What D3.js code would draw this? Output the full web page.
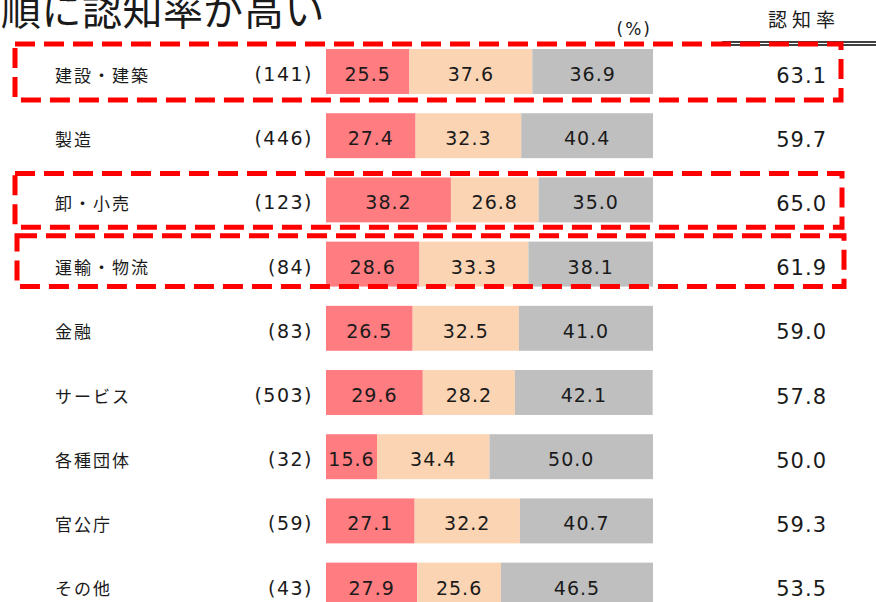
<!DOCTYPE html>
<html>
<head>
<meta charset="utf-8">
<script src="https://cdn.jsdelivr.net/npm/d3@7"></script>
<style>
  html, body { margin: 0; padding: 0; background: #fff; }
  svg { display: block; }
</style>
</head>
<body>
<svg id="chart" width="876" height="602"></svg>
<script>
// Industry categories, sample sizes and the three-way breakdown (%)
const categories = ["建設・建築", "製造", "卸・小売", "運輸・物流", "金融", "サービス", "各種団体", "官公庁", "その他"];
const counts = [141, 446, 123, 84, 83, 503, 32, 59, 43];
const seriesA = [25.5, 27.4, 38.2, 28.6, 26.5, 29.6, 15.6, 27.1, 27.9];
const seriesB = [37.6, 32.3, 26.8, 33.3, 32.5, 28.2, 34.4, 32.2, 25.6];
const seriesC = [36.9, 40.4, 35.0, 38.1, 41.0, 42.1, 50.0, 40.7, 46.5];
const awareness = [63.1, 59.7, 65.0, 61.9, 59.0, 57.8, 50.0, 59.3, 53.5];
const highlighted = ["建設・建築", "卸・小売", "運輸・物流"];
const seriesColors = ["#FF7C80", "#FBD4B4", "#BFBFBF"];

const JP = "'Noto Sans CJK JP', 'Noto Sans', sans-serif";
const NUM = "'DejaVu Sans', Verdana, sans-serif";
const INK = "#1a1a1a";

const svg = d3.select("#chart");

const x = d3.scaleLinear().domain([0, 100]).range([326, 653]);
const y = d3.scaleBand().domain(categories).range([39.4, 39.4 + 9 * 64.2])
  .paddingInner(0.3).paddingOuter(0.15);

const rows = categories.map((c, i) => ({
  cat: c, n: counts[i], total: awareness[i],
  parts: [seriesA[i], seriesB[i], seriesC[i]]
}));

// Heading fragment (runs off the top-left edge)
svg.append("text")
  .attr("x", 1).attr("y", 25)
  .attr("font-family", JP).attr("font-size", 40).attr("letter-spacing", 0.5)
  .attr("fill", INK).text("順に認知率が高い");

// Column headers
svg.append("text")
  .attr("x", 652).attr("y", 35).attr("text-anchor", "end")
  .attr("font-family", NUM).attr("font-size", 17).attr("letter-spacing", 2)
  .attr("fill", INK).text("(%)");

svg.append("text")
  .attr("x", 768).attr("y", 27)
  .attr("font-family", JP).attr("font-size", 19).attr("letter-spacing", 5)
  .attr("fill", INK).text("認知率");

// Double rule under the header
[42, 45].forEach(yy => {
  svg.append("line")
    .attr("x1", 722).attr("x2", 876).attr("y1", yy).attr("y2", yy)
    .attr("stroke", "#000").attr("stroke-width", 1.4);
});

// Stacked bars
const g = svg.append("g");
rows.forEach(r => {
  const yc = y(r.cat) + y.bandwidth() / 2;
  let acc = 0;
  r.parts.forEach((v, k) => {
    const x0 = x(acc), x1 = x(Math.min(100, acc + v));
    g.append("rect")
      .attr("x", x0).attr("y", y(r.cat))
      .attr("width", x1 - x0).attr("height", y.bandwidth())
      .attr("fill", seriesColors[k]);
    g.append("text")
      .attr("x", (x0 + x1) / 2).attr("y", yc + 9.4)
      .attr("text-anchor", "middle")
      .attr("font-family", NUM).attr("font-size", 19).attr("letter-spacing", 1)
      .attr("fill", INK).text(v.toFixed(1));
    acc += v;
  });

  g.append("text")
    .attr("x", 55).attr("y", yc + 10)
    .attr("font-family", JP).attr("font-size", 17).attr("letter-spacing", 2)
    .attr("fill", INK).text(r.cat);

  g.append("text")
    .attr("x", 313).attr("y", yc + 9.4).attr("text-anchor", "end")
    .attr("font-family", NUM).attr("font-size", 19).attr("letter-spacing", 1.5)
    .attr("fill", INK).text("(" + r.n + ")");

  g.append("text")
    .attr("x", 827).attr("y", yc + 11).attr("text-anchor", "end")
    .attr("font-family", NUM).attr("font-size", 21).attr("letter-spacing", 1)
    .attr("fill", INK).text(r.total.toFixed(1));
});

// Dashed frames around the highlighted industries
const frames = [
  { cat: "建設・建築", x0: 15, x1: 841, top: -5, bottom: 6 },
  { cat: "卸・小売", x0: 15, x1: 842, top: -4, bottom: 5 },
  { cat: "運輸・物流", x0: 17, x1: 844, top: -6, bottom: 0 }
];
frames.filter(f => highlighted.includes(f.cat)).forEach(f => {
  const t = y(f.cat) + f.top, b = y(f.cat) + y.bandwidth() + f.bottom;
  svg.append("rect")
    .attr("x", f.x0).attr("y", t)
    .attr("width", f.x1 - f.x0).attr("height", b - t)
    .attr("fill", "none").attr("stroke", "#FF0000")
    .attr("stroke-width", 5).attr("stroke-dasharray", "20,9");
});
</script>
</body>
</html>
